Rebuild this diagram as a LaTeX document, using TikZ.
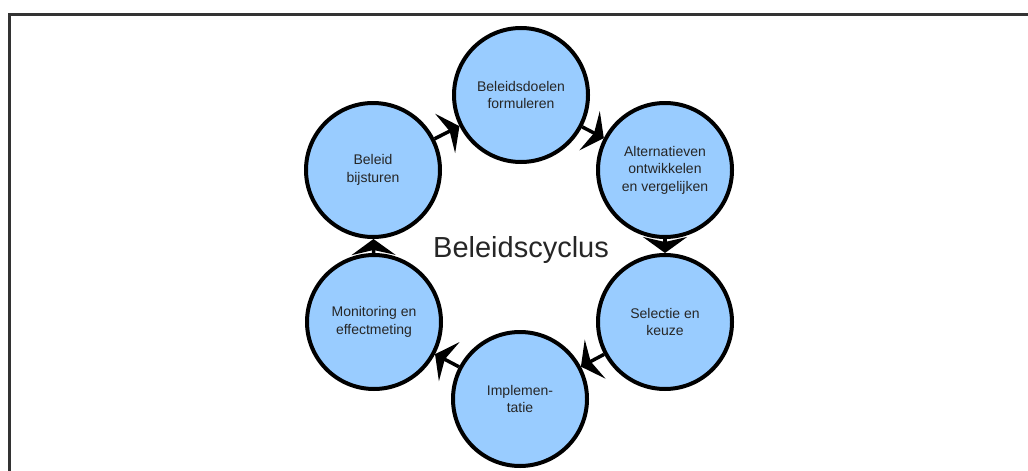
\documentclass[tikz,border=0pt]{standalone}
\usepackage{fontspec}
\setmainfont{Liberation Sans}
\usetikzlibrary{arrows.meta}
\definecolor{stagefill}{RGB}{153,204,255}
\begin{document}
\begin{tikzpicture}[x=1pt,y=-1pt,
  stage/.style={circle, draw=black, line width=4pt, fill=stagefill,
    minimum size=134pt, inner sep=0pt, align=center,
    font=\fontsize{14}{17.5}\selectfont, text=black!85},
  flow/.style={line width=3.5pt,
    -{Stealth[length=16pt,width=44pt,inset=5pt]}}]
\useasboundingbox (0,0) rectangle (1028,471);
% frame
\begin{scope}
  \clip (0,0) rectangle (1028,471);
  \draw[line width=2.5pt, black!80] (9.5,480) -- (9.5,14.3) -- (1040,14.3);
\end{scope}
% stages of the cycle
\node[stage] (doel) at (521,95)  {Beleidsdoelen\\formuleren};
\node[stage] (alt)  at (665,170) {Alternatieven\\ontwikkelen\\en vergelijken};
\node[stage] (sel)  at (665,322) {Selectie en\\keuze};
\node[stage] (impl) at (520,399) {Implemen-\\tatie};
\node[stage] (mon)  at (374,322) {Monitoring en\\effectmeting};
\node[stage] (bij)  at (373,170) {Beleid\\bijsturen};
% title in the middle
\node[anchor=base, font=\fontsize{29}{34}\selectfont, text=black!85] (title) at (521,257) {Beleidscyclus};
% cycle connectors
\draw[flow] (doel) -- (alt);
\draw[flow] (alt) -- (sel);
\draw[flow] (sel) -- (impl);
\draw[flow] (impl) -- (mon);
\draw[flow] (mon) -- (bij);
\draw[flow] (bij) -- (doel);
\end{tikzpicture}
\end{document}
